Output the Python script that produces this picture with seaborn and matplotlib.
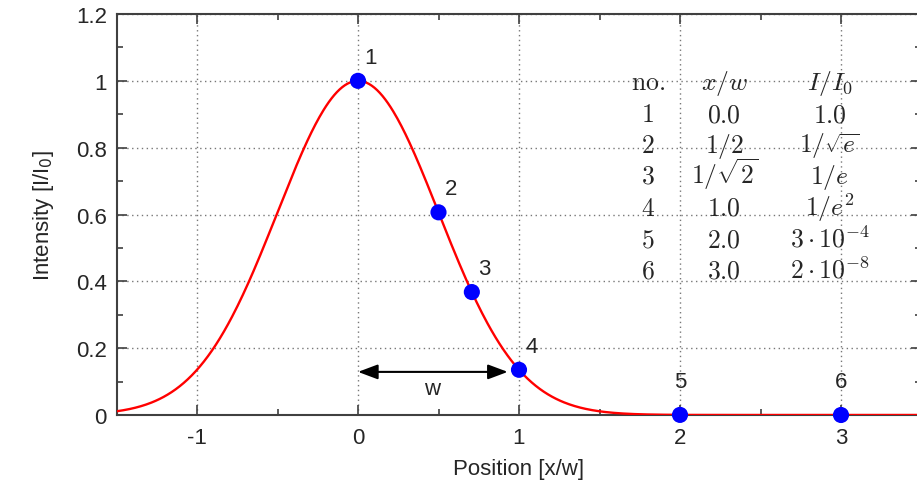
import numpy as np
import pandas as pd
import seaborn as sns
import matplotlib
matplotlib.use("Agg")
import matplotlib.pyplot as plt

# marked points on the gaussian beam profile
point_no = ["1", "2", "3", "4", "5", "6"]
point_x = [0.0, 0.5, 1 / np.sqrt(2), 1.0, 2.0, 3.0]
point_i = [1.0, 0.6065, 0.3679, 0.1353, 3e-4, 2e-8]

# table in the upper right
tab_head = [r"$\mathrm{no.}$", r"$x/w$", r"$I/I_0$"]
tab_xw = [r"$0.0$", r"$1/2$", r"$1/\sqrt{2}$", r"$1.0$", r"$2.0$", r"$3.0$"]
tab_ii = [r"$1.0$", r"$1/\sqrt{e}$", r"$1/e$", r"$1/e^2$",
          r"$3\cdot10^{-4}$", r"$2\cdot10^{-8}$"]

xticks = [-1, 0, 1, 2, 3]
xticklabels = ["-1", "0", "1", "2", "3"]
yticks = [0, 0.2, 0.4, 0.6, 0.8, 1.0, 1.2]
yticklabels = ["0", "0.2", "0.4", "0.6", "0.8", "1", "1.2"]

# intensity profile I/I0 = exp(-2 x^2)
xs = np.linspace(-1.5, 3.5, 600)
curve = pd.DataFrame({"x": xs, "I": np.exp(-2 * xs ** 2)})
pts = pd.DataFrame({"x": point_x, "I": point_i, "no": point_no})

sns.set_style("ticks")
plt.rcParams["font.family"] = ["Liberation Sans", "DejaVu Sans"]
plt.rcParams["mathtext.fontset"] = "cm"

fig = plt.figure(figsize=(9.17, 4.89), dpi=100)
ax = fig.add_axes([116.5 / 917, 73 / 489, 805 / 917, 401 / 489])

sns.lineplot(data=curve, x="x", y="I", color="#ff0000", lw=1.7, ax=ax, zorder=3)
sns.scatterplot(data=pts, x="x", y="I", color="#0000ff", s=135,
                edgecolor="none", ax=ax, zorder=4, clip_on=False)

for _, r in pts.iterrows():
    if r["x"] < 1.5:
        off = (9, 17)
    else:
        off = (0, 24)
    ax.annotate(r["no"], (r["x"], r["I"]), xytext=off, textcoords="offset points",
                ha="center", va="center", fontsize=16)

# width arrow
ax.annotate("", xy=(0.0, 0.129), xytext=(0.93, 0.129),
            arrowprops=dict(arrowstyle="<|-|>,head_length=1.2,head_width=0.45",
                            color="black", lw=1.5, shrinkA=0, shrinkB=0))
ax.text(0.46, 0.078, "w", ha="center", va="center", fontsize=16)

# table, rows placed on text baselines
col_x = [0.660, 0.755, 0.886]
row_y = [0.813, 0.733, 0.656, 0.579, 0.499, 0.421, 0.344]
tkw = dict(transform=ax.transAxes, ha="center", va="baseline", fontsize=18.5)
for cx, h in zip(col_x, tab_head):
    ax.text(cx, row_y[0], h, **tkw)
for i in range(6):
    ax.text(col_x[0], row_y[i + 1], "$" + point_no[i] + "$", **tkw)
    ax.text(col_x[1], row_y[i + 1], tab_xw[i], **tkw)
    ax.text(col_x[2], row_y[i + 1], tab_ii[i], **tkw)

ax.set_xlim(-1.5, 3.5)
ax.set_ylim(0, 1.2)
ax.set_xticks(xticks)
ax.set_xticklabels(xticklabels)
ax.set_yticks(yticks)
ax.set_yticklabels(yticklabels)
ax.set_xticks(np.arange(-1.5, 3.6, 0.5), minor=True)
ax.set_yticks(np.arange(0, 1.21, 0.1), minor=True)
ax.tick_params(which="both", direction="in", top=True, right=True,
               color="#404040", width=1.2)
ax.tick_params(which="major", length=7, labelsize=16)
ax.tick_params(which="minor", length=4)
ax.tick_params(axis="x", which="major", pad=9)
ax.tick_params(axis="y", which="major", pad=7)
ax.grid(which="major", ls=(0, (1, 2.5)), color="#777777", lw=1)
for sp in ax.spines.values():
    sp.set_color("#404040")
    sp.set_linewidth(1.5)

ax.set_xlabel("Position [x/w]", fontsize=16, labelpad=7)
ax.set_ylabel("Intensity [I/I$_0$]", fontsize=16, labelpad=14,
              math_fontfamily="dejavusans")

fig.savefig("out.png", dpi=100)
